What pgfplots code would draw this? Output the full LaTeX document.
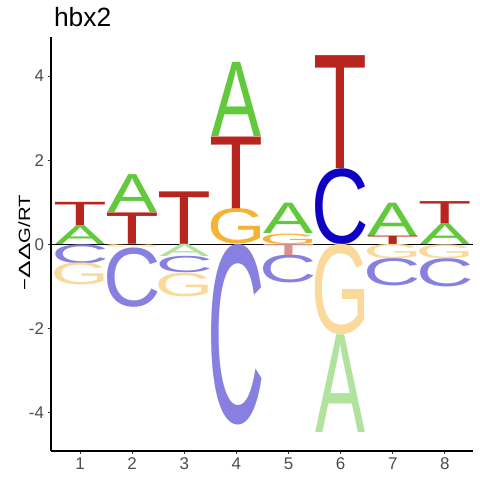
\documentclass[border=0pt]{standalone}
\usepackage{pgfplots}
\pgfplotsset{compat=1.18}
\usepackage{pgfplotstable}
\usepackage{graphicx}
\usepackage{fontspec}
\setmainfont{Liberation Sans}

\definecolor{Apos}{HTML}{62C83C}
\definecolor{Cpos}{HTML}{0F00C3}
\definecolor{Gpos}{HTML}{F5B335}
\definecolor{Tpos}{HTML}{B8251F}
\definecolor{Aneg}{HTML}{B1E39E}
\definecolor{Cneg}{HTML}{8780E1}
\definecolor{Gneg}{HTML}{FAD99A}
\definecolor{Tneg}{HTML}{DB928F}
\definecolor{tickgray}{HTML}{4D4D4D}
\definecolor{tickmark}{HTML}{333333}

% glyph box widths so that the ink is about 50bp wide
\def\wfA{50bp}
\def\wfC{57.5bp}
\def\wfG{58.6bp}
\def\wfT{53.8bp}

\newcommand\logoletter[3]{%
  \pgfmathsetlengthmacro\hl{#3*42.09bp}%
  \resizebox*{\csname wf#1\endcsname}{\hl}{\color{#2}#1}%
}

% x = position, y = bottom of letter, h = height of letter
\pgfplotstableread{
x y h
1 0 0.45
2 0.75 0.90
4 2.56 1.76
5 0.25 0.72
7 0.20 0.79
8 0 0.50
}\Aposdata
\pgfplotstableread{
x y h
1 0.45 0.55
2 0 0.75
3 0 1.25
4 0.84 1.72
6 1.80 2.68
7 0 0.20
8 0.50 0.52
}\Tposdata
\pgfplotstableread{
x y h
4 0 0.84
5 0 0.25
}\Gposdata
\pgfplotstableread{
x y h
6 0 1.80
}\Cposdata
\pgfplotstableread{
x y h
3 -0.29 0.29
6 -4.47 2.32
}\Anegdata
\pgfplotstableread{
x y h
1 -0.45 0.45
2 -1.49 1.41
3 -0.68 0.39
4 -4.29 4.29
5 -0.92 0.66
7 -0.99 0.65
8 -1.00 0.67
}\Cnegdata
\pgfplotstableread{
x y h
1 -0.97 0.52
2 -0.08 0.08
3 -1.24 0.56
6 -2.15 2.15
7 -0.34 0.34
8 -0.33 0.33
}\Gnegdata
\pgfplotstableread{
x y h
5 -0.26 0.26
}\Tnegdata

\pgfplotsset{
  logo/.style 2 args={only marks, mark=text, text mark={},
    point meta=explicit symbolic,
    nodes near coords={\logoletter{#1}{#2}{\pgfplotspointmeta}},
    every node near coord/.append style={anchor=south, inner sep=0pt, outer sep=0pt},
  },
}

\begin{document}
\begin{tikzpicture}
\path[use as bounding box, fill=white] (0,0) rectangle (480bp,480bp);
\begin{axis}[
  at={(51bp,29.3bp)}, anchor=south west,
  x=52.12bp, y=42.09bp,
  xmin=0.443, xmax=8.54, ymin=-4.90, ymax=4.93,
  axis x line*=bottom, axis y line*=left,
  axis line style={line width=1.6bp, black},
  xtick={1,...,8}, ytick={-4,-2,0,2,4},
  tick align=outside, major tick length=3.5bp,
  tick style={line width=1bp, color=tickmark},
  ticklabel style={font=\fontsize{17}{17}\selectfont, color=tickgray},
  /pgf/number format/assume math mode=true,
  clip=false,
]
\addplot[logo={A}{Apos}] table[x=x, y=y, meta=h] {\Aposdata};
\addplot[logo={T}{Tpos}] table[x=x, y=y, meta=h] {\Tposdata};
\addplot[logo={G}{Gpos}] table[x=x, y=y, meta=h] {\Gposdata};
\addplot[logo={C}{Cpos}] table[x=x, y=y, meta=h] {\Cposdata};
\addplot[logo={A}{Aneg}] table[x=x, y=y, meta=h] {\Anegdata};
\addplot[logo={C}{Cneg}] table[x=x, y=y, meta=h] {\Cnegdata};
\addplot[logo={G}{Gneg}] table[x=x, y=y, meta=h] {\Gnegdata};
\addplot[logo={T}{Tneg}] table[x=x, y=y, meta=h] {\Tnegdata};
\addplot[black, line width=0.8bp] coordinates {(0.443,0) (8.54,0)};
\end{axis}
\node[anchor=base west, font=\fontsize{26.5}{30}\selectfont] at (50.5bp,453.3bp) {hbx2};
\node[rotate=90, anchor=base, font=\fontsize{16.3}{18}\selectfont] at (30bp,237.5bp)
  {\scalebox{1.25}[1]{−\scalebox{1.3}[1]{Δ}\scalebox{1.3}[1]{Δ}G/RT}};
\end{tikzpicture}
\end{document}
